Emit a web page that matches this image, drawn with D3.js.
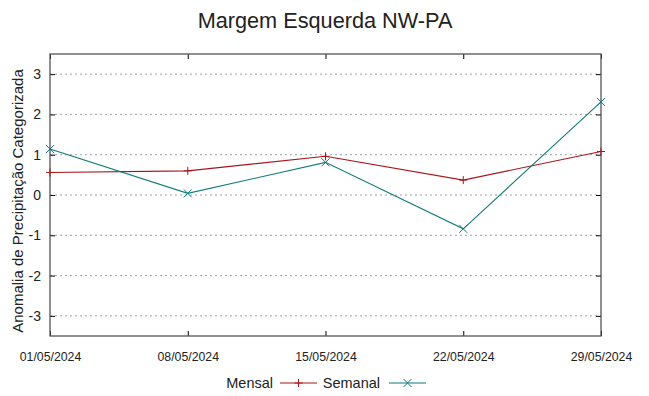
<!DOCTYPE html>
<html>
<head>
<meta charset="utf-8">
<script src="https://cdn.jsdelivr.net/npm/d3@7"></script>
<style>
    body { margin: 0; background: #fff; }
    text { font-family: "Liberation Sans", Arial, sans-serif; fill: #222; }
</style>
</head>
<body>
<svg id="chart"></svg>
<script>
const dates = ['01/05/2024', '08/05/2024', '15/05/2024', '22/05/2024', '29/05/2024'];
const mensal = [0.56, 0.60, 0.96, 0.37, 1.08];
const semanal = [1.14, 0.04, 0.81, -0.84, 2.31];
const yTicks = [-3, -2, -1, 0, 1, 2, 3];

const width = 649, height = 396;
const margin = { top: 54, right: 48, bottom: 60, left: 50 };

const svg = d3.select('#chart')
    .attr('width', width)
    .attr('height', height);

const parse = d3.timeParse('%d/%m/%Y');
const x = d3.scaleTime()
    .domain([parse(dates[0]), parse(dates[dates.length - 1])])
    .range([margin.left, width - margin.right]);

const y = d3.scaleLinear()
    .domain([-3.5, 3.5])
    .range([height - margin.bottom, margin.top]);

// grid
svg.append('g')
    .selectAll('line')
    .data(yTicks)
    .enter()
    .append('line')
    .attr('x1', margin.left)
    .attr('x2', width - margin.right)
    .attr('y1', d => y(d))
    .attr('y2', d => y(d))
    .attr('stroke', '#a0a0a0')
    .attr('stroke-width', 1)
    .attr('stroke-dasharray', '2,3');

const tickDates = dates.map(parse);

// axes (ticks inward, mirrored)
const axisLeftG = svg.append('g')
    .attr('transform', `translate(${margin.left},0)`)
    .call(d3.axisLeft(y).tickValues(yTicks).tickSize(-5).tickPadding(9).tickFormat(d => String(d)));
const axisRightG = svg.append('g')
    .attr('transform', `translate(${width - margin.right},0)`)
    .call(d3.axisRight(y).tickValues(yTicks).tickSize(-5).tickFormat(''));
const axisBottomG = svg.append('g')
    .attr('transform', `translate(0,${height - margin.bottom})`)
    .call(d3.axisBottom(x).tickValues(tickDates).tickSize(-5).tickPadding(16).tickFormat(d3.timeFormat('%d/%m/%Y')));
const axisTopG = svg.append('g')
    .attr('transform', `translate(0,${margin.top})`)
    .call(d3.axisTop(x).tickValues(tickDates).tickSize(-5).tickFormat(''));

[axisLeftG, axisRightG, axisBottomG, axisTopG].forEach(g => {
    g.select('.domain').remove();
    g.selectAll('.tick line').attr('stroke', '#000');
});
axisLeftG.selectAll('.tick text').style('font-size', '14px').attr('fill', '#222');
axisBottomG.selectAll('.tick text').style('font-size', '12.3px').attr('fill', '#222');

// frame
svg.append('rect')
    .attr('x', margin.left)
    .attr('y', margin.top)
    .attr('width', width - margin.left - margin.right)
    .attr('height', height - margin.top - margin.bottom)
    .attr('fill', 'none')
    .attr('stroke', '#555')
    .attr('stroke-width', 1.3);

const series = [
    { name: 'Mensal', values: mensal, color: '#a8161c', marker: 'plus' },
    { name: 'Semanal', values: semanal, color: '#127a7a', marker: 'cross' }
];

const line = d3.line()
    .x((d, i) => x(tickDates[i]))
    .y(d => y(d));

function drawMarker(g, cx, cy, type, color) {
    const s = 4;
    if (type === 'plus') {
        g.append('path').attr('d', `M${cx - s},${cy}H${cx + s}M${cx},${cy - s}V${cy + s}`)
            .attr('stroke', color).attr('stroke-width', 1);
    } else {
        g.append('path').attr('d', `M${cx - s},${cy - s}L${cx + s},${cy + s}M${cx - s},${cy + s}L${cx + s},${cy - s}`)
            .attr('stroke', color).attr('stroke-width', 1);
    }
}

series.forEach(s => {
    svg.append('path')
        .datum(s.values)
        .attr('d', line)
        .attr('fill', 'none')
        .attr('stroke', s.color)
        .attr('stroke-width', 1.1);
    const g = svg.append('g');
    s.values.forEach((v, i) => drawMarker(g, x(tickDates[i]), y(v), s.marker, s.color));
});

// title
svg.append('text')
    .attr('x', 325)
    .attr('y', 28)
    .attr('text-anchor', 'middle')
    .style('font-size', '21.7px')
    .text('Margem Esquerda NW-PA');

// y label
svg.append('text')
    .attr('transform', `translate(23,${(margin.top + height - margin.bottom) / 2 + 6}) rotate(-90)`)
    .attr('text-anchor', 'middle')
    .style('font-size', '15px')
    .text('Anomalia de Precipitação Categorizada');

// legend
const legend = [
    { label: 'Mensal', tx: 273, lx: 280, color: '#a8161c', marker: 'plus' },
    { label: 'Semanal', tx: 380, lx: 389, color: '#127a7a', marker: 'cross' }
];
const ly = 383;
legend.forEach(l => {
    svg.append('text')
        .attr('x', l.tx)
        .attr('y', ly + 5)
        .attr('text-anchor', 'end')
        .style('font-size', '14.5px')
        .text(l.label);
    svg.append('line')
        .attr('x1', l.lx).attr('x2', l.lx + 37)
        .attr('y1', ly).attr('y2', ly)
        .attr('stroke', l.color).attr('stroke-width', 1.1);
    drawMarker(svg, l.lx + 18.5, ly, l.marker, l.color);
});
</script>
</body>
</html>
